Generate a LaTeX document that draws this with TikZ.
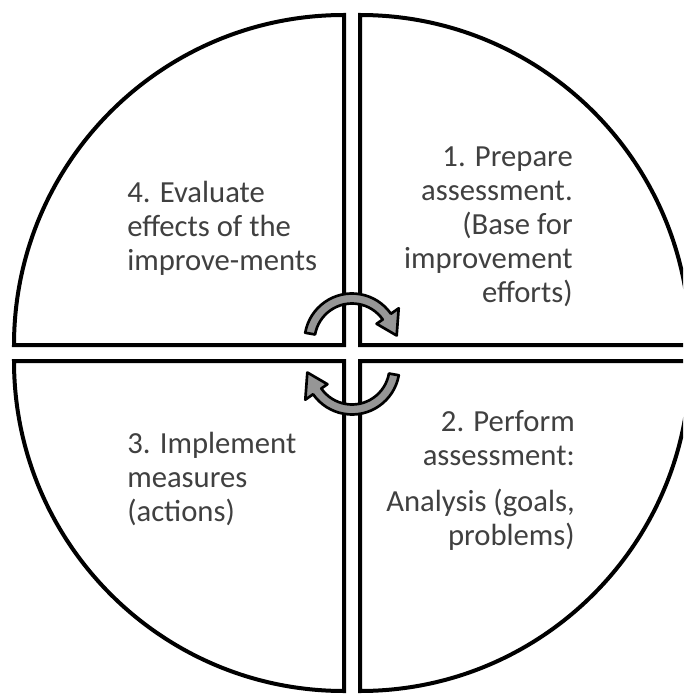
\documentclass[tikz,border=0pt]{standalone}
\usepackage{fontspec}
\setmainfont{Carlito}
\definecolor{arrowgray}{HTML}{969696}
\definecolor{textgray}{HTML}{404040}
\begin{document}
\begin{tikzpicture}[x=0.75pt,y=-0.75pt,
  quad/.style={draw=black,line width=3pt,line join=miter,fill=white},
  cyclearrow/.style={draw=black,line width=2pt,fill=arrowgray,line join=round},
  quadtext/.style={text=textgray,font=\fontsize{23}{25.5}\selectfont,inner sep=0pt}]
\useasboundingbox (0,0) rectangle (683,695);
\clip (0,0) rectangle (683,695);

% four quarter discs, separated by a narrow cross-shaped gap
\draw[quad] (344,345) -- (14,345) arc[start angle=180,end angle=270,radius=330] -- cycle;
\draw[quad] (360,345) -- (360,15) arc[start angle=270,end angle=360,radius=330] -- cycle;
\draw[quad] (360,361) -- (690,361) arc[start angle=0,end angle=90,radius=330] -- cycle;
\draw[quad] (344,361) -- (344,691) arc[start angle=90,end angle=180,radius=330] -- cycle;

% circular arrows in the middle
\begin{scope}[shift={(352,341)}]
  \draw[cyclearrow] (190:47.5) arc[start angle=190,end angle=325,radius=47.5]
    -- (325:57) -- (353:45) -- (325:30) -- (325:37.5)
    arc[start angle=325,end angle=190,radius=37.5] -- cycle;
\end{scope}
\begin{scope}[shift={(352,367)}]
  \draw[cyclearrow] (10:47.5) arc[start angle=10,end angle=145,radius=47.5]
    -- (145:57) -- (173:45) -- (145:30) -- (145:37.5)
    arc[start angle=145,end angle=10,radius=37.5] -- cycle;
\end{scope}

% quadrant texts (anchored at the baseline of their last line)
\node[quadtext,anchor=base east,align=right] (prepare) at (573,302)
  {1. Prepare\\assessment.\\(Base for\\improvement\\efforts)};
\node[quadtext,anchor=base east,align=right] (perform) at (575,545)
  {2. Perform\\assessment:\\[9pt]Analysis (goals,\\problems)};
\node[quadtext,anchor=base west,align=left] (implement) at (127,521)
  {3. Implement\\measures\\(actions)};
\node[quadtext,anchor=base west,align=left] (evaluate) at (127,270)
  {4. Evaluate\\effects of the\\improve-ments};
\end{tikzpicture}
\end{document}
